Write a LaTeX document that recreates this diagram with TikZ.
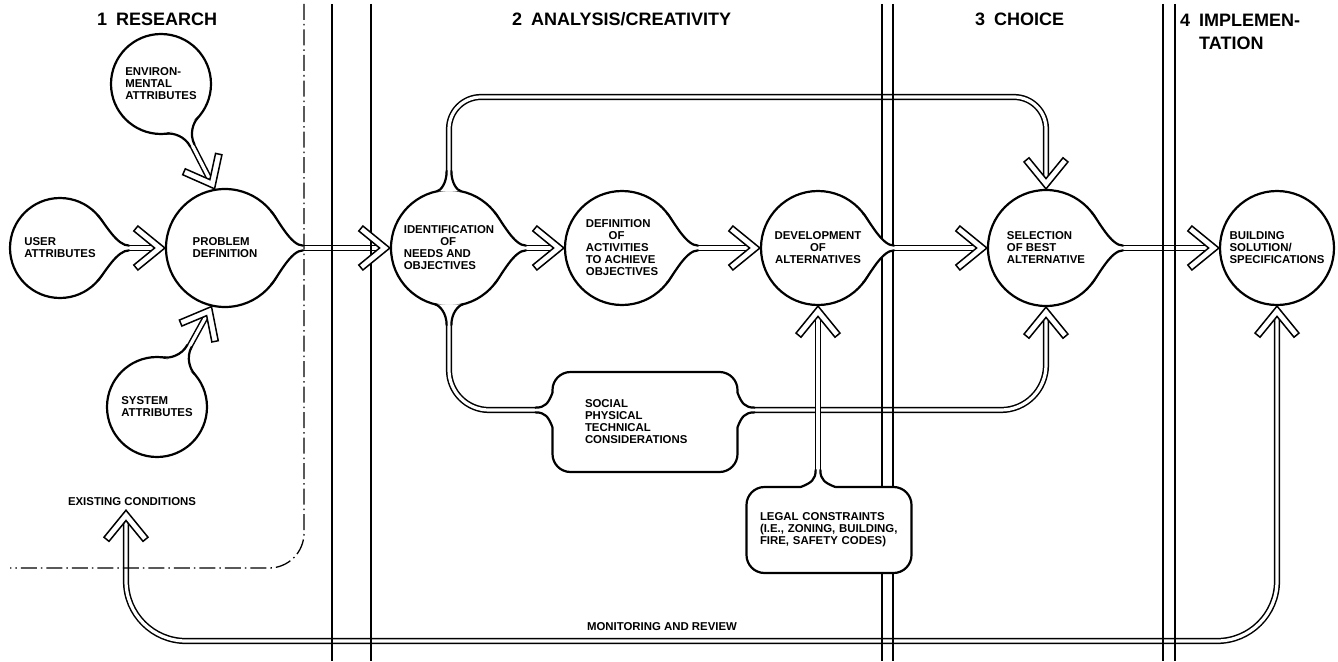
\documentclass[tikz,border=0pt]{standalone}
\usepackage{fontspec}
\setmainfont{Liberation Sans}
\usepackage{tikz}
\pgfdeclarelayer{edgelayer}
\pgfdeclarelayer{lanelayer}
\pgfdeclarelayer{nodelayer}
\pgfsetlayers{edgelayer,lanelayer,nodelayer,main}
\newcommand{\bubblefont}{\bfseries\fontsize{11.4}{12}\selectfont}
\newcommand{\phasefont}{\bfseries\fontsize{18}{24}\selectfont}
\tikzstyle{bubble}=[circle, draw=black, fill=white, line width=2.2pt, inner sep=0pt, align=left, font=\bubblefont]
\tikzstyle{box}=[rectangle, rounded corners=18pt, draw=black, fill=white, line width=2.2pt, inner sep=0pt, align=left, font=\bubblefont]
\tikzstyle{label text}=[inner sep=4pt, font=\bubblefont]
\tikzstyle{phase}=[anchor=base west, inner sep=0pt, align=left, font=\phasefont]
\tikzstyle{lane}=[line width=1.3pt]
\tikzstyle{boundary}=[line width=1.3pt, rounded corners=35pt, dash pattern=on 16pt off 4pt on 1.5pt off 4pt]
\tikzstyle{pipe}=[draw=black, double=white, double distance=3.2pt, line width=1.5pt]
\tikzstyle{directed pipe}=[pipe, shorten >=11pt]
\tikzset{
  pics/chev/.style={code={
    \filldraw [fill=white, draw=black, line width=1.5pt, line join=miter] (0,0) -- (-27,22) -- (-31.1,17) -- (-10.3,0) -- (-31.1,-17) -- (-27,-22) -- cycle;
  }},
  pics/cneck/.style args={#1/#2}{code={
    \pgfmathsetmacro\nsx{#1*cos(#2)-#1-1.1}
    \pgfmathsetmacro\nsy{#1*sin(#2)}
    \pgfmathsetmacro\ncx{\nsx+0.35*\nsy*sin(#2)}
    \pgfmathsetmacro\ncy{\nsy-0.35*\nsy*cos(#2)}
    \fill [white] (\nsx,\nsy) .. controls (\ncx,\ncy) and (6,2.35) .. (18,2.35) -- (18,-2.35) .. controls (6,-2.35) and (\ncx,-\ncy) .. (\nsx,-\nsy) -- cycle;
    \draw [line width=2.2pt, line cap=round] (\nsx,\nsy) .. controls (\ncx,\ncy) and (6,2.35) .. (18,2.35);
    \draw [line width=2.2pt, line cap=round] (\nsx,-\nsy) .. controls (\ncx,-\ncy) and (6,-2.35) .. (18,-2.35);
  }},
  pics/bneck/.style={code={
    \fill [white] (-3,17) -- (0,17) .. controls (3,7) and (6,2.35) .. (16,2.35) -- (16,-2.35) .. controls (6,-2.35) and (3,-7) .. (0,-17) -- (-3,-17) -- cycle;
    \draw [line width=2.2pt, line cap=round] (-1,17) .. controls (3,7) and (6,2.35) .. (16,2.35);
    \draw [line width=2.2pt, line cap=round] (-1,-17) .. controls (3,-7) and (6,-2.35) .. (16,-2.35);
  }}
}

\begin{document}
\begin{tikzpicture}[x=1pt, y=-1pt]
	\useasboundingbox (0,0) rectangle (1338,661);
	\begin{pgfonlayer}{nodelayer}
		\node [style=bubble, minimum size=100pt] (env) at (161, 84) {ENVIRON-\\MENTAL\\ATTRIBUTES};
		\node [style=bubble, minimum size=100pt] (user) at (60, 248) {USER\\ATTRIBUTES};
		\node [style=bubble, minimum size=118pt] (pd) at (225, 248) {PROBLEM\\DEFINITION};
		\node [style=bubble, minimum size=100pt] (sys) at (157, 407) {SYSTEM\\ATTRIBUTES};
		\node [style=bubble, minimum size=116pt] (idn) at (449, 248) {IDENTIFICATION\\\hspace*{3.2em}OF\\NEEDS AND\\OBJECTIVES};
		\node [style=bubble, minimum size=114pt] (doa) at (622, 248) {DEFINITION\\\hspace*{2em}OF\\ACTIVITIES\\TO ACHIEVE\\OBJECTIVES};
		\node [style=bubble, minimum size=114pt, align=center] (dev) at (818, 248) {DEVELOPMENT\\OF\\ALTERNATIVES};
		\node [style=bubble, minimum size=116pt] (sel) at (1046, 248) {SELECTION\\OF BEST\\ALTERNATIVE};
		\node [style=bubble, minimum size=114pt] (bs) at (1277, 248) {BUILDING\\SOLUTION/\\SPECIFICATIONS};
		\node [style=box, minimum width=185pt, minimum height=100pt, text width=120pt] (spt) at (645, 422) {SOCIAL\\PHYSICAL\\TECHNICAL\\CONSIDERATIONS};
		\node [style=box, minimum width=165pt, minimum height=86pt, text width=138pt] (lgl) at (829, 530) {LEGAL CONSTRAINTS\\(I.E., ZONING, BUILDING,\\FIRE, SAFETY CODES)};
		\node [style=label text] (ec) at (132, 502) {EXISTING CONDITIONS};
		\node [style=label text] (mr) at (662, 627) {MONITORING AND REVIEW};
		\coordinate (top) at (700, 97);
		\coordinate (mon) at (700, 641);
	\end{pgfonlayer}
	\begin{pgfonlayer}{edgelayer}
		\fill [white] (0,0) rectangle (1338,661);
		\draw [style=directed pipe] (env.-63) to (pd.100);
		\draw [style=directed pipe] (user) to (pd);
		\draw [style=directed pipe] (sys.62) to (pd.-103);
		\draw [style=directed pipe] (pd) to (idn);
		\draw [style=directed pipe] (idn) to (doa);
		\draw [style=directed pipe] (doa) to (dev);
		\draw [style=directed pipe] (dev) to (sel);
		\draw [style=directed pipe] (sel) to (bs);
		\draw [style=directed pipe, rounded corners=32pt] (idn.north) |- (top) -| (sel.north);
		\draw [style=pipe, rounded corners=40pt] (idn.south) |- ([yshift=12pt]spt.west);
		\draw [style=directed pipe, rounded corners=45pt] ([yshift=12pt]spt.east) -| (sel.south);
		\draw [style=directed pipe] (dev.south |- lgl.north) to (dev.south);
		\draw [style=directed pipe, shorten <=11pt, rounded corners=60pt] ([xshift=-6pt]ec.south) |- (mon) -| (bs.south);
	\end{pgfonlayer}
	\begin{pgfonlayer}{lanelayer}
		\draw [style=lane] (332,4) to (332,661);
		\draw [style=lane] (371,4) to (371,661);
		\draw [style=lane] (882,4) to (882,661);
		\draw [style=lane] (893,4) to (893,661);
		\draw [style=lane] (1163,4) to (1163,661);
		\draw [style=lane] (1175,4) to (1175,661);
		\draw [style=boundary] (304,4) |- (10,568);
	\end{pgfonlayer}
	% necks where the pipes leave the bubbles and boxes
	\pic [rotate=-63] at (env.-63) {cneck=50/20};
	\pic at (user.east) {cneck=50/40};
	\pic [rotate=62] at (sys.62) {cneck=50/20};
	\pic at (pd.east) {cneck=59/38};
	\pic at (idn.east) {cneck=58/38};
	\pic [rotate=90] at (idn.north) {cneck=58/12};
	\pic [rotate=-90] at (idn.south) {cneck=58/14};
	\pic at (doa.east) {cneck=57/38};
	\pic at (dev.east) {cneck=57/38};
	\pic at (sel.east) {cneck=58/38};
	\pic [rotate=180] at ([yshift=12pt]spt.west) {bneck};
	\pic at ([yshift=12pt]spt.east) {bneck};
	\pic [rotate=90] at (dev.south |- lgl.north) {bneck};
	% open arrow heads
	\pic [rotate=-63] at (pd.100) {chev};
	\pic at (pd.west) {chev};
	\pic [rotate=62] at (pd.-103) {chev};
	\pic at (idn.west) {chev};
	\pic at (doa.west) {chev};
	\pic at (dev.west) {chev};
	\pic at (sel.west) {chev};
	\pic at (bs.west) {chev};
	\pic [rotate=-90] at (sel.north) {chev};
	\pic [rotate=90] at (sel.south) {chev};
	\pic [rotate=90] at (dev.south) {chev};
	\pic [rotate=90] at (bs.south) {chev};
	\pic [rotate=90] at ([xshift=-6pt]ec.south) {chev};
	% phase titles
	\node [style=phase] (research) at (97, 26) {1\enspace RESEARCH};
	\node [style=phase] (analysis) at (512, 26) {2\enspace ANALYSIS/CREATIVITY};
	\node [style=phase] (choice) at (975, 26) {3\enspace CHOICE};
	\node [style=phase] (implement) at (1180, 50) {4\enspace IMPLEMEN-\\\hspace*{19pt}TATION};
\end{tikzpicture}
\end{document}
